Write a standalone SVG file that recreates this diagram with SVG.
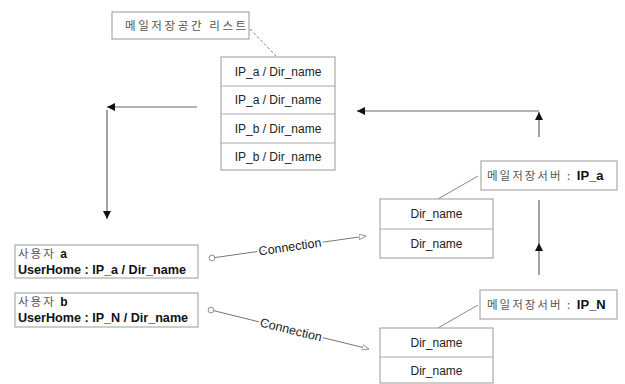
<svg xmlns="http://www.w3.org/2000/svg" width="625" height="384" viewBox="0 0 625 384">
<style>
.box{fill:#fff;stroke:#999;stroke-width:1}
.sep{stroke:#aaa;stroke-width:1}
.t{font-family:"Liberation Sans",Arial,sans-serif;font-size:12px;fill:#222}
.k{font-family:"Noto Sans CJK KR","Liberation Sans",sans-serif;font-size:11.5px;fill:#555;letter-spacing:2px}
.b{font-family:"Liberation Sans",Arial,sans-serif;font-weight:bold;fill:#111;letter-spacing:0}
.arr{stroke:#666;stroke-width:1.2;fill:none}
.link{stroke:#888;stroke-width:1;fill:none}
.conn{stroke:#777;stroke-width:1;fill:none}
.lbl{font-family:"Liberation Sans",Arial,sans-serif;font-size:12.5px;fill:#222;stroke:#fff;stroke-width:4;paint-order:stroke;stroke-linejoin:round}
</style>
<defs>
<marker id="ah" viewBox="0 0 10 10" refX="10" refY="5" markerWidth="8" markerHeight="8" markerUnits="userSpaceOnUse" orient="auto"><path d="M0,0 L10,5 L0,10 z" fill="#111"/></marker>
<marker id="oh" viewBox="0 0 10 10" refX="10" refY="5" markerWidth="7" markerHeight="7" markerUnits="userSpaceOnUse" orient="auto"><path d="M0,1 L10,5 L0,9 z" fill="#fff" stroke="#888" stroke-width="1.2"/></marker>
<marker id="oc" viewBox="0 0 10 10" refX="5" refY="5" markerWidth="8" markerHeight="8" markerUnits="userSpaceOnUse"><circle cx="5" cy="5" r="3.6" fill="#fff" stroke="#888" stroke-width="1.2"/></marker>
</defs>
<rect width="625" height="384" fill="#fff"/>

<g id="connectors">
<line class="link" x1="250" y1="29" x2="277" y2="57" stroke-dasharray="3,2"/>
<line class="link" x1="478" y1="176" x2="438" y2="199"/>
<line class="link" x1="478" y1="305" x2="438" y2="328"/>
<line class="arr" x1="197" y1="107" x2="107" y2="107" marker-end="url(#ah)"/>
<line class="arr" x1="107" y1="110" x2="107" y2="219" marker-end="url(#ah)"/>
<line class="arr" x1="539" y1="111" x2="357" y2="111" marker-end="url(#ah)"/>
<line class="arr" x1="539" y1="137" x2="539" y2="112" marker-end="url(#ah)"/>
<line class="arr" x1="539" y1="275" x2="539" y2="243" marker-end="url(#ah)"/>
<line class="arr" x1="539" y1="243" x2="539" y2="200"/>
<line class="conn" x1="212" y1="258" x2="366" y2="236" marker-start="url(#oc)" marker-end="url(#oh)"/>
<text class="lbl" x="290" y="251" text-anchor="middle" transform="rotate(-8.2 290 247)">Connection</text>
<line class="conn" x1="211" y1="310" x2="369" y2="349" marker-start="url(#oc)" marker-end="url(#oh)"/>
<text class="lbl" x="291" y="334" text-anchor="middle" transform="rotate(13.9 291 330)">Connection</text>
</g>

<g id="list-label">
<rect class="box" x="112" y="12" width="137" height="27"/>
<text class="k" x="125" y="29.5" style="letter-spacing:2.6px">메일저장공간 리스트</text>
</g>

<g id="storage-list">
<rect class="box" x="221" y="57" width="114" height="113"/>
<line class="sep" x1="221" y1="86" x2="335" y2="86"/>
<line class="sep" x1="221" y1="114" x2="335" y2="114"/>
<line class="sep" x1="221" y1="143" x2="335" y2="143"/>
<text class="t" x="278" y="76" text-anchor="middle">IP_a / Dir_name</text>
<text class="t" x="278" y="104" text-anchor="middle">IP_a / Dir_name</text>
<text class="t" x="278" y="133" text-anchor="middle">IP_b / Dir_name</text>
<text class="t" x="278" y="161" text-anchor="middle">IP_b / Dir_name</text>
</g>

<g id="user-a">
<rect class="box" x="15" y="245" width="183" height="33"/>
<text x="18" y="258"><tspan class="k">사용자 </tspan><tspan class="b" font-size="12">a</tspan></text>
<text class="b" x="18" y="274" font-size="12.6">UserHome : IP_a / Dir_name</text>
</g>

<g id="user-b">
<rect class="box" x="15" y="293" width="183" height="34"/>
<text x="18" y="306"><tspan class="k">사용자 </tspan><tspan class="b" font-size="12">b</tspan></text>
<text class="b" x="18" y="322" font-size="12.6">UserHome : IP_N / Dir_name</text>
</g>

<g id="server-a">
<rect class="box" x="481" y="161" width="136" height="29"/>
<text x="487" y="180"><tspan class="k">메일저장서버 : </tspan><tspan class="b" font-size="13">IP_a</tspan></text>
</g>

<g id="server-n">
<rect class="box" x="480" y="290" width="137" height="29"/>
<text x="487" y="309"><tspan class="k">메일저장서버 : </tspan><tspan class="b" font-size="13">IP_N</tspan></text>
</g>

<g id="dir-a">
<rect class="box" x="380" y="199" width="113" height="59"/>
<line class="sep" x1="380" y1="229" x2="493" y2="229"/>
<text class="t" x="436.5" y="218" text-anchor="middle">Dir_name</text>
<text class="t" x="436.5" y="248" text-anchor="middle">Dir_name</text>
</g>

<g id="dir-n">
<rect class="box" x="380" y="328" width="113" height="55"/>
<line class="sep" x1="380" y1="357" x2="493" y2="357"/>
<text class="t" x="436.5" y="347" text-anchor="middle">Dir_name</text>
<text class="t" x="436.5" y="375" text-anchor="middle">Dir_name</text>
</g>
</svg>
